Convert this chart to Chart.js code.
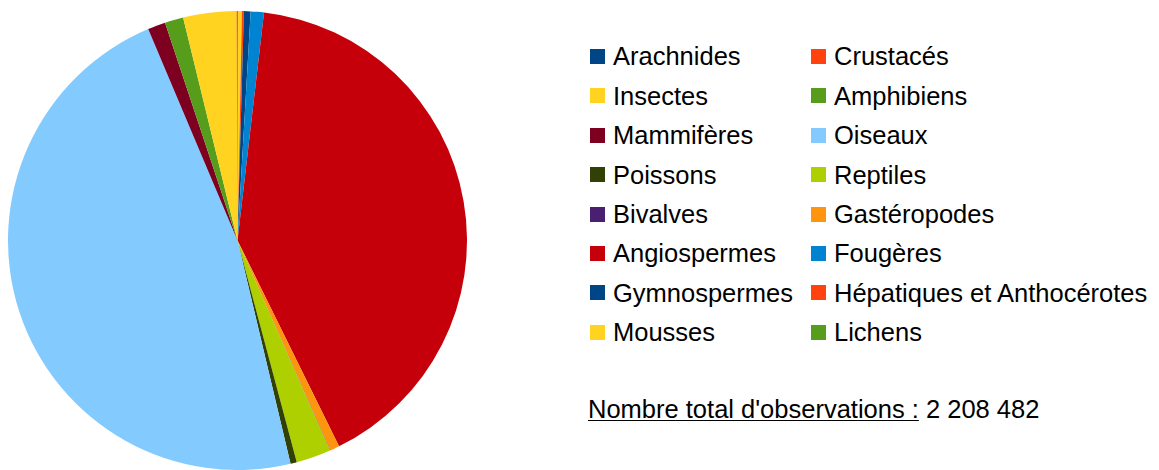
<!DOCTYPE html>
<html><head><meta charset="utf-8">
<script src="https://cdn.jsdelivr.net/npm/chart.js@4/dist/chart.umd.min.js"></script>
<style>
html,body{margin:0;padding:0;background:#fff;width:1159px;height:470px;overflow:hidden;}
#pie{position:absolute;left:8px;top:11px;width:459px;height:459px;}
.txt{position:absolute;font-family:"Liberation Sans",Arial,sans-serif;font-size:25.5px;color:#000;line-height:1;white-space:nowrap;}
.sw{position:absolute;width:15px;height:15px;}
u{text-decoration:underline;text-underline-offset:2px;text-decoration-thickness:1px;}
</style></head><body>
<div id="pie"><canvas id="c"></canvas></div>
<div id="legend"></div>
<div id="total" class="txt"></div>
<script>
// Categories in legend order
const categories = ["Arachnides","Crustacés","Insectes","Amphibiens","Mammifères","Oiseaux","Poissons","Reptiles","Bivalves","Gastéropodes","Angiospermes","Fougères","Gymnospermes","Hépatiques et Anthocérotes","Mousses","Lichens"];
const observations = [700,600,82800,28800,27600,1045732,9800,54000,600,14700,902400,20550,10400,3070,6130,600];
const colors = ["#004586","#ff420e","#ffd320","#579d1c","#7e0021","#83caff","#314004","#aecf00","#4b1f6f","#ff950e","#c5000b","#0084d1","#004586","#ff420e","#ffd320","#579d1c"];
const totalLabel = "Nombre total d'observations :";

// Pie drawn counter-clockwise in legend order => reversed data clockwise
const revLabels = categories.slice().reverse();
const revData = observations.slice().reverse();
const revColors = colors.slice().reverse();

new Chart(document.getElementById('c'), {
  type: 'pie',
  data: { labels: revLabels, datasets: [{ data: revData, backgroundColor: revColors, borderWidth: 0 }] },
  options: {
    responsive: true, maintainAspectRatio: false, animation: false,
    layout: { padding: 0 },
    plugins: { legend: { display: false }, tooltip: { enabled: false } }
  }
});

// Legend (two columns)
const leg = document.getElementById('legend');
const colX = [590, 811], textX = [613, 834];
const row0Sq = 49, row0Base = 66, rowH = 39.4, baseOff = 21.6;
categories.forEach((name, i) => {
  const col = i % 2, row = Math.floor(i / 2);
  const sq = document.createElement('div');
  sq.className = 'sw';
  sq.style.left = colX[col] + 'px';
  sq.style.top = (row0Sq + row * rowH) + 'px';
  sq.style.background = colors[i];
  leg.appendChild(sq);
  const t = document.createElement('div');
  t.className = 'txt';
  t.style.left = textX[col] + 'px';
  t.style.top = (row0Base + row * rowH - baseOff) + 'px';
  t.textContent = name;
  leg.appendChild(t);
});

// Total
const total = observations.reduce((a, b) => a + b, 0);
const fmt = String(total).replace(/\B(?=(\d{3})+(?!\d))/g, ' ');
const tot = document.getElementById('total');
tot.style.left = '588px';
tot.style.top = (419 - baseOff) + 'px';
const u = document.createElement('u');
u.textContent = totalLabel;
tot.appendChild(u);
tot.appendChild(document.createTextNode(' ' + fmt));
</script>
</body></html>
